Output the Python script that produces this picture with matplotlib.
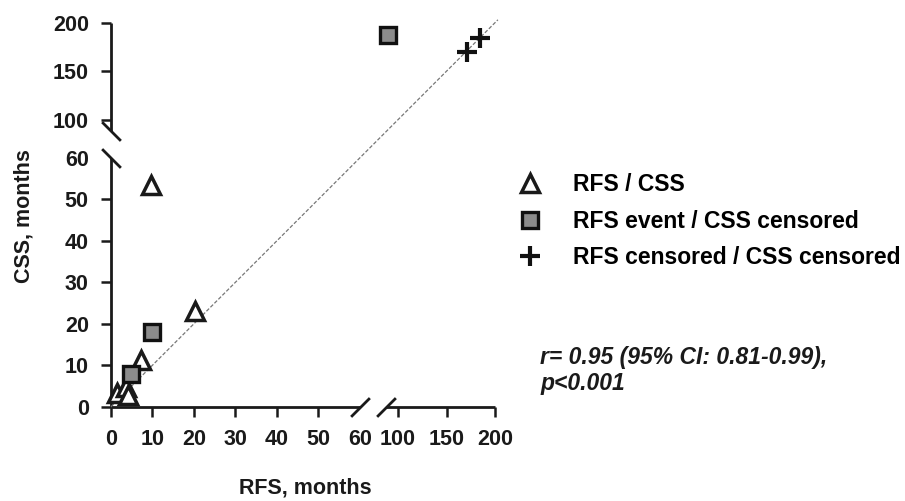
import numpy as np
import matplotlib
matplotlib.use("Agg")
import matplotlib.pyplot as plt
from matplotlib.lines import Line2D

plt.rcParams["font.family"] = ["Liberation Sans", "DejaVu Sans"]
plt.rcParams["font.weight"] = "bold"

# data (months)
tri_rfs = [1.4, 3.6, 4.2, 7.3, 9.7, 20.3]
tri_css = [3.4, 4.8, 2.8, 11.3, 53.4, 23.1]
sq_rfs = [4.7, 9.8, 90.0]
sq_css = [7.8, 17.9, 187.0]
plus_rfs = [171.0, 184.5]
plus_css = [170.0, 184.0]
identity = [0, 203]

xticks = [0, 10, 20, 30, 40, 50, 60, 100, 150, 200]
yticks = [0, 10, 20, 30, 40, 50, 60, 100, 150, 200]
labels = ["RFS / CSS", "RFS event / CSS censored", "RFS censored / CSS censored"]
stats_text = "r= 0.95 (95% CI: 0.81-0.99),\np<0.001"

# broken scale: 0-60 linear, gap, 88-200 compressed
BX = np.array([0.0, 60.0, 88.0, 200.0])
BT = np.array([0.0, 60.0, 66.36, 92.54])
SLOPE_HI = (BT[3] - BT[2]) / (BX[3] - BX[2])


def fwd(v):
    v = np.asarray(v, dtype=float)
    out = np.interp(v, BX, BT)
    out = np.where(v > BX[-1], BT[-1] + (v - BX[-1]) * SLOPE_HI, out)
    out = np.where(v < 0, v, out)
    return out


def inv(t):
    t = np.asarray(t, dtype=float)
    out = np.interp(t, BT, BX)
    out = np.where(t > BT[-1], BX[-1] + (t - BT[-1]) / SLOPE_HI, out)
    out = np.where(t < 0, t, out)
    return out


W, H = 905, 501
fig = plt.figure(figsize=(W / 100, H / 100), dpi=100)
ax = fig.add_axes([111 / W, 1 - 406.7 / H, (495 - 111) / W, (406.7 - 22.7) / H])
ax.set_xscale("function", functions=(fwd, inv))
ax.set_yscale("function", functions=(fwd, inv))
ax.set_xlim(0, 200)
ax.set_ylim(0, 200)
for s in ax.spines.values():
    s.set_visible(False)

ink = "#1a1a1a"
lw_axis = 2.0

# axis segments and break marks
ax.plot([0, 60], [0, 0], color=ink, lw=lw_axis, clip_on=False, solid_capstyle="butt")
ax.plot([88, 200], [0, 0], color=ink, lw=lw_axis, clip_on=False, solid_capstyle="butt")
ax.plot([0, 0], [0, 60], color=ink, lw=lw_axis, clip_on=False, solid_capstyle="butt")
ax.plot([0, 0], [88, 200], color=ink, lw=lw_axis, clip_on=False, solid_capstyle="butt")
ax.plot([60, 88], [0, 0], linestyle="none", marker=[(-1, -1), (1, 1)],
        markersize=13.5, mew=2.0, mec=ink, clip_on=False)
ax.plot([0, 0], [60, 88], linestyle="none", marker=[(-1, 1), (1, -1)],
        markersize=13.5, mew=2.0, mec=ink, clip_on=False)

ax.plot(identity, identity, color="#777777", lw=0.9, dashes=(3, 1.5),
        clip_on=False, zorder=2)

tri_style = dict(linestyle="none", marker="^", markersize=12.5, mfc="white",
                 mec=ink, mew=2.5)
sq_style = dict(linestyle="none", marker="s", markersize=11, mfc="#8c8c8c",
                mec="#111111", mew=2.4)
plus_style = dict(linestyle="none", marker="+", markersize=14, mec="#111111",
                  mew=3.0)

ax.plot(tri_rfs, tri_css, clip_on=False, zorder=4, **tri_style)
ax.plot(sq_rfs, sq_css, clip_on=False, zorder=5, **sq_style)
ax.plot(plus_rfs, plus_css, clip_on=False, zorder=5, **plus_style)

ax.set_xticks(xticks)
ax.set_yticks(yticks)
ax.set_xticklabels([str(t) for t in xticks])
ax.set_yticklabels([str(t) for t in yticks])
ax.tick_params(direction="out", length=7, width=1.8, color=ink,
               labelsize=15.5, labelcolor=ink)
ax.tick_params(axis="x", pad=9)
ax.tick_params(axis="y", pad=9)
ax.xaxis.get_major_ticks()[6].tick1line.set_visible(False)
ax.yaxis.get_major_ticks()[6].tick1line.set_visible(False)

fig.text(24 / W, 1 - 216 / H, "CSS, months", rotation=90, ha="center",
         va="center", fontsize=15.5, color=ink)
fig.text(305 / W, 1 - 488 / H, "RFS, months", ha="center", va="center",
         fontsize=15.5, color=ink)

handles = [Line2D([], [], **tri_style), Line2D([], [], **sq_style),
           Line2D([], [], **plus_style)]
fig.legend(handles, labels, loc="upper left", bbox_to_anchor=(518.5 / W, 1 - 173 / H),
           frameon=False, fontsize=16.5, handlelength=1.0, handletextpad=1.38,
           labelspacing=0.6, borderpad=0, borderaxespad=0)

fig.text(540 / W, 1 - 346 / H, stats_text, ha="left", va="top", fontsize=16.5,
         style="italic", color=ink, linespacing=1.15)

fig.savefig("out.png", dpi=100)
